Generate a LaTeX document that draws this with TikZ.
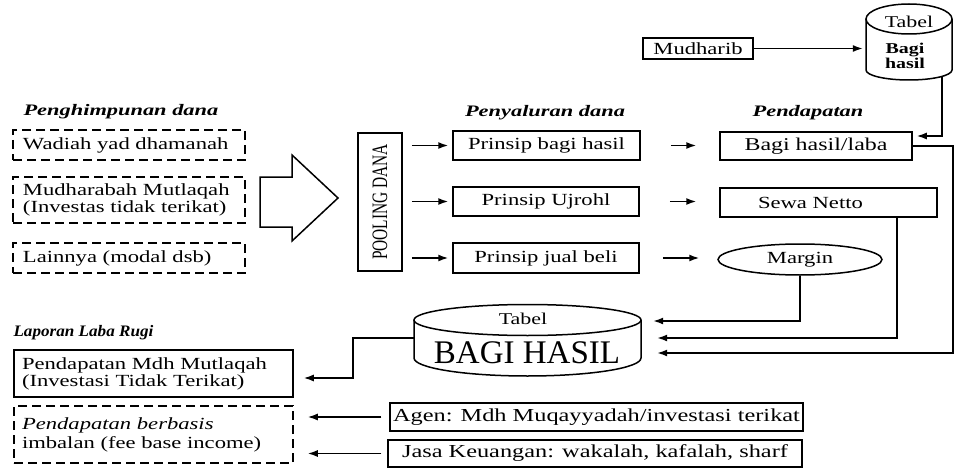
\documentclass[tikz,border=0pt]{standalone}
\usepackage{fontspec}
\setmainfont{Liberation Serif}[FakeStretch=1.33]
\newfontfamily\condfont{Liberation Serif}[FakeStretch=0.7]
\newfontfamily\titlefont{Liberation Serif}[FakeStretch=1.4]
\newfontfamily\titlefontb{Liberation Serif}[FakeStretch=1.07]
\usetikzlibrary{arrows.meta,shapes.geometric}
\tikzset{
  box/.style={draw, line width=1.5pt, inner sep=0pt, font=\fontsize{17}{17}\selectfont},
  dashbox/.style={box, dash pattern=on 9pt off 5pt},
  titel/.style={font=\titlefont\bfseries\itshape\fontsize{16}{16}\selectfont},
  titelb/.style={font=\titlefontb\bfseries\itshape\fontsize{16}{16}\selectfont},
  arr/.style={line width=1.5pt, -{Latex[length=10pt,width=7pt]}},
  garis/.style={line width=1.5pt},
}
\begin{document}
\begin{tikzpicture}[x=1pt,y=-1pt]
\useasboundingbox (0,0) rectangle (955,468);

% penghimpunan dana
\node[titel, anchor=west] (judul1) at (20,112) {Penghimpunan dana};
\node[dashbox, minimum width=232pt, minimum height=30pt, text width=212pt, inner xsep=10pt, align=left] (wadiah) at (129,145) {Wadiah yad dhamanah};
\node[dashbox, minimum width=232pt, minimum height=46pt, text width=212pt, inner xsep=10pt, align=left] (mudharabah) at (129,200) {Mudharabah Mutlaqah\\(Investas tidak terikat)};
\node[dashbox, minimum width=232pt, minimum height=30pt, text width=212pt, inner xsep=10pt, align=left] (lainnya) at (129,258) {Lainnya (modal dsb)};

% panah besar
\draw[line width=1.5pt] (260,177) -- (292,177) -- (292,155) -- (338,198) -- (292,241) -- (292,227) -- (260,227) -- cycle;

\node[box, minimum width=44pt, minimum height=138pt, font=\condfont\fontsize{22}{22}\selectfont] (pooling) at (380,202) {\rotatebox{90}{POOLING DANA}};

% penyaluran dana
\node[titel] (judul2) at (545,113) {Penyaluran dana};
\node[box, minimum width=187pt, minimum height=29pt] (bagihasil) at (546.5,145.5) {Prinsip bagi hasil};
\node[box, minimum width=186pt, minimum height=29pt] (ujroh) at (546,201.5) {Prinsip Ujrohl};
\node[box, minimum width=186pt, minimum height=30pt] (jualbeli) at (546,258) {Prinsip jual beli};

\draw[arr, shorten <=9pt, shorten >=4pt] (pooling.east |- bagihasil.west) -- (bagihasil.west);
\draw[arr, shorten <=9pt, shorten >=4pt] (pooling.east |- ujroh.west) -- (ujroh.west);
\draw[arr, shorten <=9pt, shorten >=4pt] (pooling.east |- jualbeli.west) -- (jualbeli.west);

% pendapatan
\node[titel] (judul3) at (808,113) {Pendapatan};
\node[box, minimum width=110pt, minimum height=21pt] (mudharib) at (698,48.5) {Mudharib};

\draw[garis] (866,19) -- (866,70) arc[start angle=180, end angle=0, x radius=43, y radius=10] -- (952,19);
\draw[garis] (909,19) ellipse[x radius=43, y radius=15];
\node[inner sep=0pt, minimum width=86pt, minimum height=76pt] (tabelkecil) at (909,42) {};
\node[font=\fontsize{16.5}{16.5}\selectfont] (tk1) at (909,22) {Tabel};
\node[font=\bfseries\fontsize{15}{15}\selectfont, align=center] (tk2) at (905,56) {Bagi\\hasil};

\node[box, minimum width=192pt, minimum height=28pt, font=\fontsize{18}{18}\selectfont] (labahasil) at (816,146) {Bagi hasil/laba};
\node[box, minimum width=217pt, minimum height=29pt, text width=141pt, inner xsep=38pt, align=left] (sewa) at (828.5,202.5) {Sewa Netto};
\node[box, ellipse, minimum width=164pt, minimum height=31pt] (margin) at (800,259.5) {Margin};

\draw[arr, shorten >=3pt] (mudharib.east) -- (mudharib.east -| tabelkecil.west);
\draw[arr, shorten >=4pt] ([xshift=33pt, yshift=4pt]tabelkecil.south) |- ([yshift=10pt]labahasil.east);
\draw[arr, shorten <=30pt, shorten >=23pt] (bagihasil.east) -- (bagihasil.east -| labahasil.west);
\draw[arr, shorten <=30pt, shorten >=23pt] (ujroh.east) -- (ujroh.east -| sewa.west);
\draw[arr, shorten <=23pt, shorten >=18pt] (jualbeli.east) -- (jualbeli.east -| margin.west);

% tabel bagi hasil
\draw[garis] (414,320) -- (414,358) arc[start angle=180, end angle=0, x radius=113.5, y radius=18] -- (641,320);
\draw[garis] (527.5,320) ellipse[x radius=113.5, y radius=15.5];
\node[inner sep=0pt, minimum width=227pt, minimum height=71pt] (tabelbesar) at (527.5,340.5) {};
\node[font=\fontsize{16.5}{16.5}\selectfont] (tb1) at (523,319) {Tabel};
\node[font=\addfontfeature{FakeStretch=1.0}\fontsize{33}{33}\selectfont] (tb2) at (527,353) {BAGI HASIL};

\draw[arr, shorten >=12pt] (margin.south) |- ([yshift=19.5pt]tabelbesar.east);
\draw[arr, shorten >=16pt] ([xshift=68.5pt]sewa.south) |- ([yshift=2.5pt]tabelbesar.east);
\draw[arr, shorten >=16pt] (labahasil.east) -- ++(40,0) |- ([yshift=-12.5pt]tabelbesar.east);

% laporan laba rugi
\node[titelb, anchor=west] (judul4) at (10,333) {Laporan Laba Rugi};
\node[box, minimum width=279pt, minimum height=47pt, text width=263pt, inner xsep=8pt, align=left] (mutlaqah) at (153.5,373.5) {Pendapatan Mdh Mutlaqah\\(Investasi Tidak Terikat)};
\node[dashbox, minimum width=279pt, minimum height=57pt, text width=263pt, inner xsep=8pt, align=left, font=\fontsize{17}{19}\selectfont] (imbalan) at (153.5,434.5) {\textit{Pendapatan berbasis}\\imbalan (fee base income)};
\node[box, minimum width=413pt, minimum height=28pt, font=\fontsize{18.3}{18.3}\selectfont] (agen) at (596.5,417) {Agen: Mdh Muqayyadah/investasi terikat};
\node[box, minimum width=414pt, minimum height=27pt, font=\fontsize{18.3}{18.3}\selectfont] (jasa) at (595,453.5) {Jasa Keuangan: wakalah, kafalah, sharf};

\draw[arr, shorten >=10pt] ([yshift=2.5pt]tabelbesar.west) -- ++(-61,0) |- ([yshift=-4.5pt]mutlaqah.east);
\draw[arr, shorten <=8pt, shorten >=14pt] (agen.west) -- (agen.west -| imbalan.east);
\draw[arr, shorten <=6pt, shorten >=14pt] (jasa.west) -- (jasa.west -| imbalan.east);
\end{tikzpicture}
\end{document}
